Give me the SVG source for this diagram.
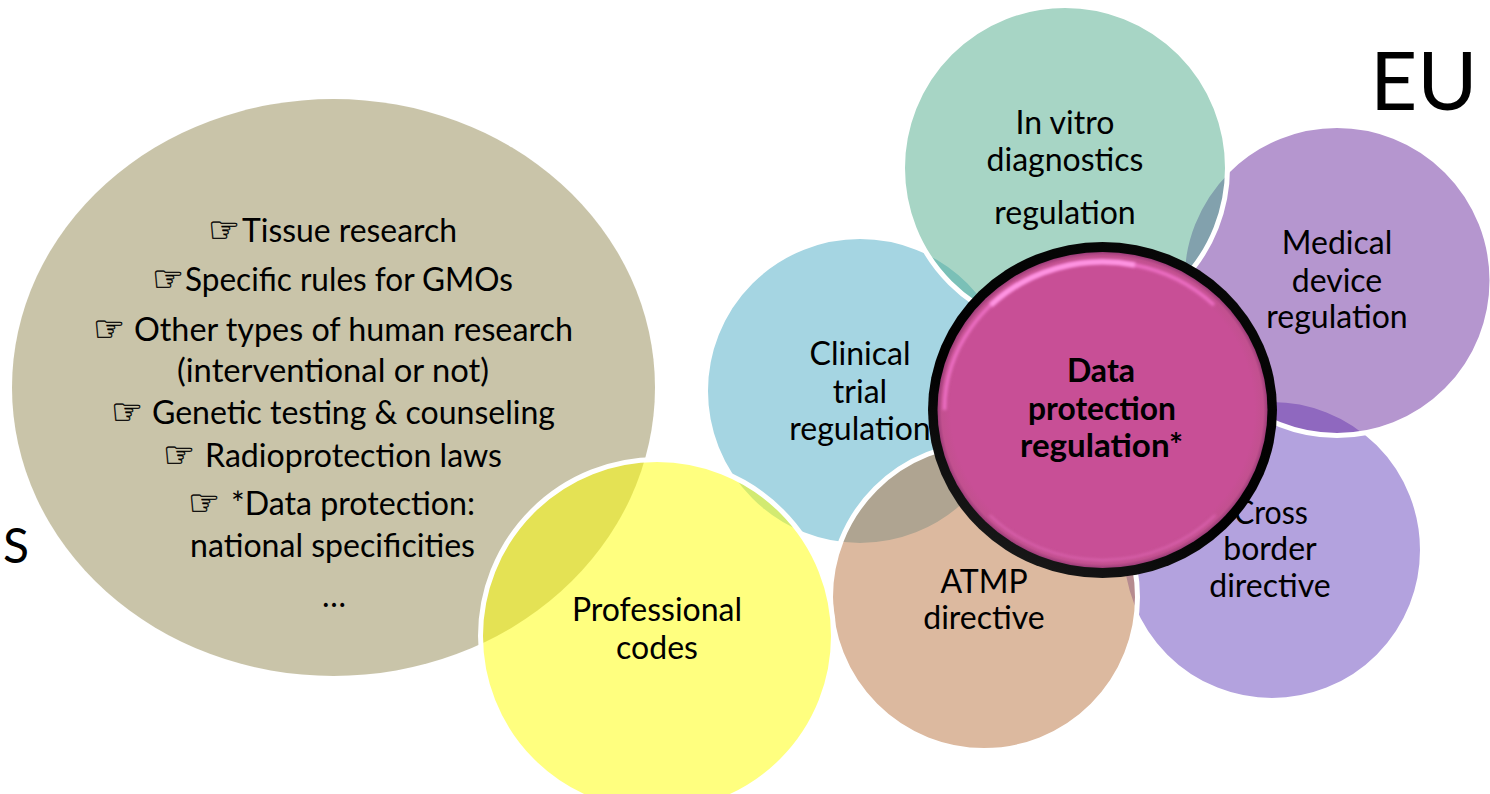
<svg xmlns="http://www.w3.org/2000/svg" width="1490" height="794" viewBox="0 0 1490 794">
<defs>
<style>
text{font-family:Lato,"Open Sans","Liberation Sans",sans-serif;fill:#000;font-size:32px}
.c{text-anchor:middle}
.hand{font-family:"DejaVu Sans",sans-serif;font-size:36px;stroke:#000;stroke-width:0.4}
.b{stroke:#fff;stroke-width:5}
.bold{font-weight:700}
.glow{fill:none;filter:url(#soft)}
</style>
<radialGradient id="pink" cx="0.5" cy="0.5" r="0.5">
<stop offset="0.92" stop-color="#c84f96"/><stop offset="0.975" stop-color="#c2508f"/><stop offset="1" stop-color="#9c3c78"/>
</radialGradient>
<linearGradient id="ring" x1="0.8" y1="0" x2="0.2" y2="1">
<stop offset="0" stop-color="#080808"/><stop offset="0.6" stop-color="#000"/><stop offset="1" stop-color="#1c1c1c"/>
</linearGradient>
<filter id="soft" x="-10%" y="-10%" width="120%" height="120%"><feGaussianBlur stdDeviation="1.8"/></filter>
</defs>
<g id="national"><ellipse cx="333.5" cy="387.5" rx="321.5" ry="288.5" fill="#938953" fill-opacity="0.5"/>
<text x="208" y="242"><tspan class="hand">☞</tspan><tspan x="242" textLength="215" lengthAdjust="spacingAndGlyphs">Tissue research</tspan></text>
<text x="152" y="291"><tspan class="hand">☞</tspan><tspan x="185" textLength="328" lengthAdjust="spacingAndGlyphs">Specific rules for GMOs</tspan></text>
<text x="93" y="341"><tspan class="hand">☞</tspan><tspan x="134" textLength="439" lengthAdjust="spacingAndGlyphs">Other types of human research</tspan></text>
<text x="177" y="382" textLength="312" lengthAdjust="spacingAndGlyphs">(interventional or not)</text>
<text x="111" y="424"><tspan class="hand">☞</tspan><tspan x="152" textLength="403" lengthAdjust="spacingAndGlyphs">Genetic testing &amp; counseling</tspan></text>
<text x="163" y="467"><tspan class="hand">☞</tspan><tspan x="205" textLength="297" lengthAdjust="spacingAndGlyphs">Radioprotection laws</tspan></text>
<text x="188" y="515"><tspan class="hand">☞</tspan><tspan x="231" textLength="244" lengthAdjust="spacingAndGlyphs">*Data protection:</tspan></text>
<text x="190" y="557" textLength="285" lengthAdjust="spacingAndGlyphs">national specificities</text>
<text x="334" y="607" class="c">…</text>
</g>
<g id="cross"><circle cx="1272" cy="550" r="150.5" class="b" fill="#6745bd" fill-opacity="0.5"/>
<text x="1271" y="524" class="c" textLength="74" lengthAdjust="spacingAndGlyphs">Cross</text><text x="1270" y="560" class="c">border</text><text x="1270" y="597" class="c">directive</text></g>
<g id="medical"><circle cx="1337" cy="280.5" r="155" class="b" fill="#6b2da0" fill-opacity="0.5"/>
<text x="1337" y="254" class="c">Medical</text><text x="1337" y="292" class="c">device</text><text x="1337" y="328" class="c">regulation</text></g>
<g id="clinical"><circle cx="860" cy="391" r="154.5" class="b" fill="#4bacc6" fill-opacity="0.5"/>
<text x="860" y="365" class="c">Clinical</text><text x="860" y="403" class="c">trial</text><text x="860" y="440" class="c">regulation</text></g>
<g id="ivd"><circle cx="1065" cy="168" r="162.5" class="b" fill="#4fac8c" fill-opacity="0.5"/>
<text x="1065" y="134" class="c">In vitro</text><text x="1065" y="171" class="c">diagnostics</text><text x="1065" y="224" class="c">regulation</text></g>
<g id="atmp"><circle cx="984" cy="597" r="153.5" class="b" fill="#b9733f" fill-opacity="0.5"/>
<text x="984" y="593" class="c">ATMP</text><text x="984" y="629" class="c">directive</text></g>
<g id="professional"><circle cx="657" cy="636" r="176.5" class="b" fill="#ffff00" fill-opacity="0.5"/>
<text x="657" y="621" class="c">Professional</text><text x="657" y="659" class="c">codes</text></g>
<g id="data">
<ellipse cx="1102.5" cy="410" rx="174.5" ry="168" fill="url(#ring)"/>
<ellipse cx="1102.5" cy="410" rx="165" ry="158" fill="url(#pink)"/>
<path class="glow" d="M944.5 410A158 148 0 0 1 1214 305" stroke="#ef6fc6" stroke-width="3.5"/>
<path class="glow" d="M990.8 305.3A158 148 0 0 1 1135 265" stroke="#ff96e4" stroke-width="5"/>
<path class="glow" d="M989.5 515A158 150 0 0 0 1215.5 515" stroke="#e86cc0" stroke-width="2" stroke-opacity="0.7"/>
<text x="1101" y="382" class="c bold">Data</text>
<text x="1102" y="420" class="c bold" textLength="148" lengthAdjust="spacingAndGlyphs">protection</text>
<text x="1101.5" y="457" class="c bold" textLength="163" lengthAdjust="spacingAndGlyphs">regulation*</text>
</g>
<g id="labels"><text x="1370" y="110" style="font-size:82px">EU</text>
<text x="3" y="563" style="font-size:48px">S</text></g>
<g id="connectors"/>
</svg>
